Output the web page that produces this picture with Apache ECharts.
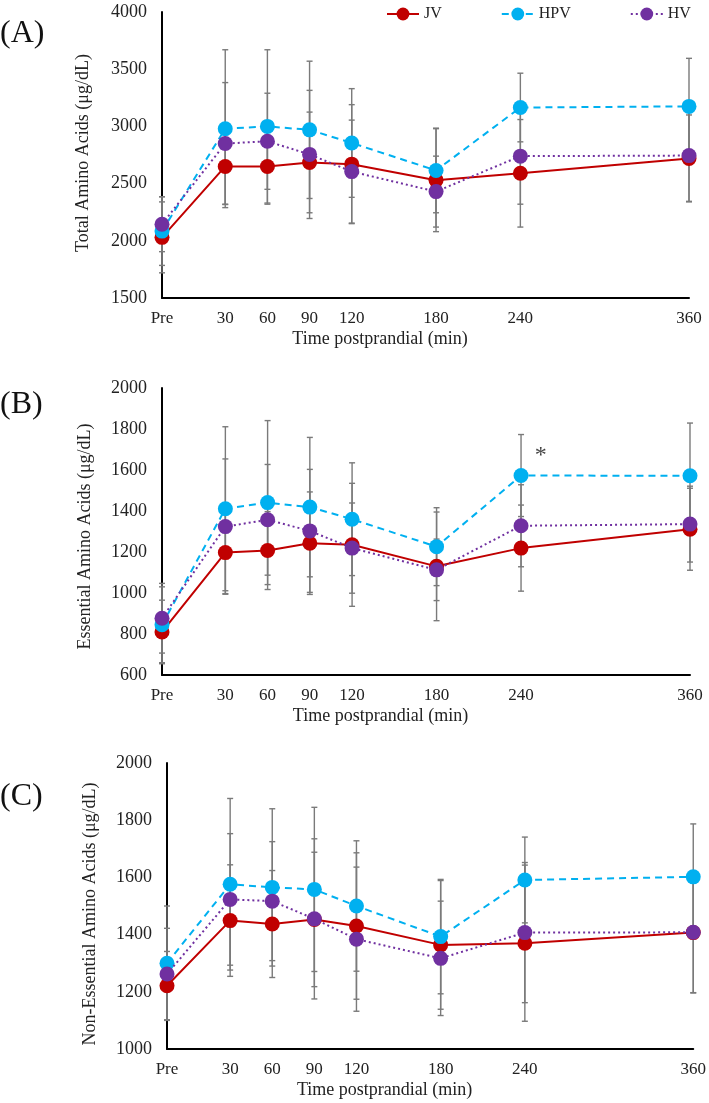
<!DOCTYPE html>
<html>
<head>
<meta charset="utf-8">
<script src="https://cdn.jsdelivr.net/npm/echarts@6/dist/echarts.min.js"></script>
<style>
  html, body { margin: 0; padding: 0; background: #fff; }
  #chart { width: 709px; height: 1103px; }
</style>
</head>
<body>
<div id="chart"></div>
<script>
// time points (Pre is drawn at -15 min)
var timePoints = [-15, 30, 60, 90, 120, 180, 240, 360];
var timeLabels = ['Pre', '30', '60', '90', '120', '180', '240', '360'];
var seriesNames = ['JV', 'HPV', 'HV'];

// (A) total amino acids, mean and SD
var jvTotal = [2030, 2650, 2650, 2685, 2670, 2530, 2590, 2720];
var hpvTotal = [2085, 2980, 3000, 2970, 2855, 2615, 3165, 3175];
var hvTotal = [2145, 2850, 2870, 2755, 2605, 2430, 2740, 2745];
var jvTotalSd = [310, 330, 330, 440, 520, 450, 470, 380];
var hpvTotalSd = [300, 690, 670, 600, 475, 370, 300, 420];
var hvTotalSd = [240, 533, 420, 560, 450, 310, 420, 400];

// (B) essential amino acids
var jvEss = [810, 1197, 1207, 1243, 1235, 1130, 1219, 1311];
var hpvEss = [845, 1411, 1441, 1419, 1360, 1226, 1573, 1572];
var hvEss = [877, 1324, 1357, 1303, 1219, 1113, 1328, 1336];
var jvEssSd = [155, 200, 190, 250, 300, 265, 210, 200];
var hpvEssSd = [185, 400, 400, 340, 275, 190, 200, 257];
var hvEssSd = [170, 330, 270, 300, 220, 150, 200, 185];

// (C) non-essential amino acids
var jvNon = [1221, 1449, 1437, 1453, 1430, 1364, 1370, 1407];
var hpvNon = [1300, 1576, 1565, 1558, 1500, 1393, 1591, 1602];
var hvNon = [1262, 1523, 1517, 1455, 1384, 1317, 1407, 1408];
var jvNonSd = [120, 195, 187, 235, 256, 225, 273, 210];
var hpvNonSd = [200, 300, 275, 287, 228, 200, 150, 185];
var hvNonSd = [160, 230, 208, 280, 252, 200, 245, 212];

// significance mark in panel B (x, y)
var starPoint = [254, 1668];

var panels = [
  { yName: 'Total Amino Acids (μg/dL)', min: 1500, max: 4000, step: 500, namePad: [0, 0, 0, 4], nameGap: 70,
    means: [jvTotal, hpvTotal, hvTotal], sds: [jvTotalSd, hpvTotalSd, hvTotalSd] },
  { yName: 'Essential Amino Acids (μg/dL)', min: 600, max: 2000, step: 200, namePad: [0, 10, 0, 0], nameGap: 68,
    means: [jvEss, hpvEss, hvEss], sds: [jvEssSd, hpvEssSd, hvEssSd] },
  { yName: 'Non-Essential Amino Acids (μg/dL)', min: 1000, max: 2000, step: 200, namePad: [0, 16, 0, 0], nameGap: 68,
    means: [jvNon, hpvNon, hvNon], sds: [jvNonSd, hpvNonSd, hvNonSd] }
];

var grids = [
  { left: 162, right: 20, top: 12, height: 286 },
  { left: 162, right: 19, top: 388, height: 287 },
  { left: 167, right: 13, top: 763, height: 286 }
];

var colors = ['#c00000', '#00b0f0', '#7030a0'];
var lineTypes = ['solid', [7, 5], [2, 3]];
var font = 'Liberation Serif, Times New Roman, serif';

function errorBar(params, api) {
  var x = api.value(0);
  var top = api.coord([x, api.value(2)]);
  var bot = api.coord([x, api.value(1)]);
  var st = { stroke: '#7a7a7a', lineWidth: 1.4 };
  return {
    type: 'group',
    children: [
      { type: 'line', shape: { x1: top[0], y1: top[1], x2: bot[0], y2: bot[1] }, style: st },
      { type: 'line', shape: { x1: top[0] - 3, y1: top[1], x2: top[0] + 3, y2: top[1] }, style: st },
      { type: 'line', shape: { x1: bot[0] - 3, y1: bot[1], x2: bot[0] + 3, y2: bot[1] }, style: st }
    ]
  };
}

var xAxes = [], yAxes = [], series = [];

panels.forEach(function (p, i) {
  xAxes.push({
    type: 'value', gridIndex: i, min: -15, max: 360,
    name: 'Time postprandial (min)', nameLocation: 'middle', nameGap: 32,
    // title sits left of the axis centre in the original
    nameTextStyle: { fontFamily: font, fontSize: 18, color: '#222', padding: [0, 91, 0, 0] },
    axisLine: { onZero: false, lineStyle: { color: '#000', width: 2 } },
    axisTick: { show: false },
    splitLine: { show: false },
    axisLabel: {
      customValues: timePoints, margin: 12,
      fontFamily: font, fontSize: 17, color: '#222',
      formatter: function (v) { return timeLabels[timePoints.indexOf(v)]; }
    }
  });
  yAxes.push({
    type: 'value', gridIndex: i, min: p.min, max: p.max, interval: p.step,
    name: p.yName, nameLocation: 'middle', nameGap: p.nameGap, nameRotate: 90,
    nameTextStyle: { fontFamily: font, fontSize: 18, color: '#222', padding: p.namePad },
    axisLine: { show: true, onZero: false, lineStyle: { color: '#000', width: 2 } },
    axisTick: { show: false },
    splitLine: { show: false },
    axisLabel: {
      margin: 15, fontFamily: font, fontSize: 18, color: '#222',
      formatter: function (v) { return String(v); }
    }
  });

  // error bars first so the markers sit on top
  p.means.forEach(function (m, k) {
    series.push({
      type: 'custom', xAxisIndex: i, yAxisIndex: i, z: 1, silent: true,
      renderItem: errorBar,
      data: timePoints.map(function (t, j) { return [t, m[j] - p.sds[k][j], m[j] + p.sds[k][j]]; })
    });
  });
  p.means.forEach(function (m, k) {
    series.push({
      name: seriesNames[k], type: 'line', xAxisIndex: i, yAxisIndex: i, z: 3 + k,
      symbol: 'circle', symbolSize: 15,
      itemStyle: { color: colors[k] },
      lineStyle: { color: colors[k], width: 2, type: lineTypes[k] },
      data: timePoints.map(function (t, j) { return [t, m[j]]; })
    });
  });
});

// asterisk in panel B
series.push({
  type: 'scatter', xAxisIndex: 1, yAxisIndex: 1, symbolSize: 0, silent: true,
  label: { show: true, formatter: '*', position: 'inside', fontFamily: font, fontSize: 24, color: '#111' },
  data: [starPoint]
});

var titles = [
  { text: '(A)', left: 0, top: 18 },
  { text: '(B)', left: 0, top: 389 },
  { text: '(C)', left: 0, top: 781 }
].map(function (t) {
  t.padding = 0;
  t.textStyle = { fontFamily: font, fontSize: 32, fontWeight: 'normal', color: '#111' };
  return t;
});

var chart = echarts.init(document.getElementById('chart'));
chart.setOption({
  animation: false,
  title: titles,
  legend: {
    data: seriesNames, left: 381, top: 1, itemWidth: 32, itemHeight: 16, itemGap: 59,
    textStyle: { fontFamily: font, fontSize: 16, color: '#222' }
  },
  grid: grids,
  xAxis: xAxes,
  yAxis: yAxes,
  series: series
});
</script>
</body>
</html>
